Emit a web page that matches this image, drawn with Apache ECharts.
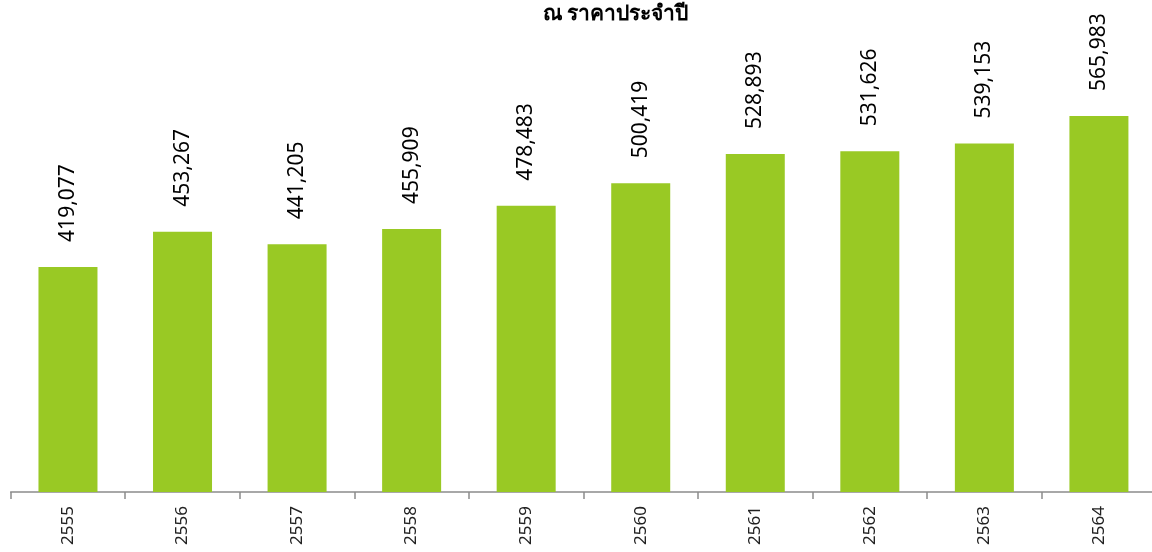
<!DOCTYPE html>
<html>
<head>
<meta charset="utf-8">
<script src="https://cdn.jsdelivr.net/npm/echarts@6/dist/echarts.min.js"></script>
<style>
html,body{margin:0;padding:0;background:#fff;overflow:hidden;}
#chart{width:1160px;height:552px;}
</style>
</head>
<body>
<div id="chart"></div>
<script>
const categories = ['2555','2556','2557','2558','2559','2560','2561','2562','2563','2564'];
const values = [419077, 453267, 441205, 455909, 478483, 500419, 528893, 531626, 539153, 565983];
const titleText = 'ณ ราคาประจำปี';

const chart = echarts.init(document.getElementById('chart'));
chart.setOption({
  animation: false,
  title: {
    text: titleText,
    left: 538,
    top: -1,
    textStyle: { fontSize: 21, fontWeight: 'bold', color: '#000', fontFamily: 'Noto Sans, DejaVu Sans, sans-serif' }
  },
  grid: { left: 10.7, width: 1145.5, top: 81, height: 411, containLabel: false },
  xAxis: {
    type: 'category',
    data: categories,
    axisLine: { lineStyle: { color: '#8c8c8c', width: 1.5 } },
    axisTick: { show: true, length: 7, lineStyle: { color: '#8c8c8c', width: 1.5 } },
    axisLabel: { rotate: 90, margin: 14, fontSize: 17, color: '#222', fontFamily: 'Noto Sans, sans-serif' }
  },
  yAxis: {
    type: 'value',
    min: 200000,
    max: 600000,
    show: false,
    splitLine: { show: false }
  },
  series: [{
    type: 'bar',
    data: values,
    barWidth: 59,
    itemStyle: { color: '#99c924' },
    label: {
      show: true,
      position: 'top',
      rotate: 90,
      align: 'left',
      verticalAlign: 'middle',
      distance: 25,
      fontSize: 21,
      color: '#000',
      fontFamily: 'Noto Sans, sans-serif',
      formatter: p => p.value.toLocaleString('en-US')
    }
  }]
});
</script>
</body>
</html>
